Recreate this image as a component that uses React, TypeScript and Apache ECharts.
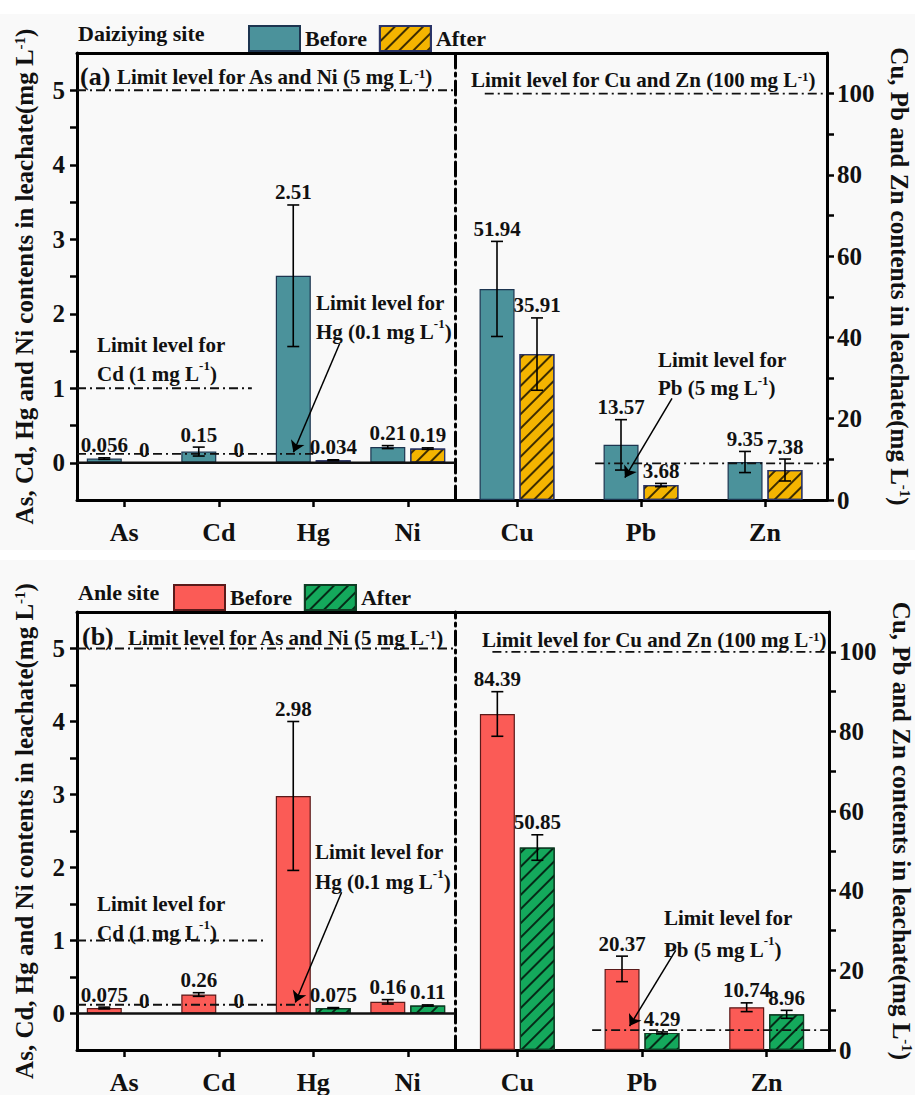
import React, { useEffect, useRef } from 'react';
import * as echarts from 'echarts';

// ---------- categories & ticks ----------
const leftCats = ['As', 'Cd', 'Hg', 'Ni'];
const rightCats = ['Cu', 'Pb', 'Zn'];
const leftLabelTicks = [0, 1, 2, 3, 4, 5];
const leftTickMarks = [0, 0.5, 1, 1.5, 2, 2.5, 3, 3.5, 4, 4.5, 5];
const rightLabelTicks = [0, 20, 40, 60, 80, 100];
const rightTickMarks = [0, 10, 20, 30, 40, 50, 60, 70, 80, 90, 100];

// ---------- panel (a) Daiziying site ----------
const aLeftBefore = [0.056, 0.15, 2.51, 0.21];
const aLeftBeforeErr = [0.01, 0.06, 0.95, 0.02];
const aLeftAfter = [0, 0, 0.034, 0.19];
const aLeftAfterErr = [0, 0, 0.006, 0.01];
const aRightBefore = [51.94, 13.57, 9.35];
const aRightBeforeErr = [11.7, 6.2, 2.6];
const aRightAfter = [35.91, 3.68, 7.38];
const aRightAfterErr = [8.9, 0.4, 2.7];

// ---------- panel (b) Anle site ----------
const bLeftBefore = [0.075, 0.26, 2.98, 0.16];
const bLeftBeforeErr = [0.012, 0.025, 1.02, 0.03];
const bLeftAfter = [0, 0, 0.075, 0.11];
const bLeftAfterErr = [0, 0, 0.006, 0.008];
const bRightBefore = [84.39, 20.37, 10.74];
const bRightBeforeErr = [5.6, 3.2, 1.1];
const bRightAfter = [50.85, 4.29, 8.96];
const bRightAfterErr = [3.2, 0.25, 1.0];

// ---------- limit lines: [x along category span, y value] ----------
const aLimitAsNi = [[0, 5], [4, 5]];
const aLimitCd = [[0, 1], [1.85, 1]];
const aLimitHg = [[0, 0.12], [2.5, 0.12]];
const aLimitCuZn = [[0.24, 100], [3, 100]];
const aLimitPb = [[1.13, 9], [3, 9]];
const aArrowHg = [[2.78, 1.6], [2.29, 0.14]];
const aArrowPb = [[1.75, 25], [1.37, 5.5]];

const bLimitAsNi = [[0, 5], [4, 5]];
const bLimitCd = [[0, 1], [1.97, 1]];
const bLimitHg = [[0, 0.12], [2.45, 0.12]];
const bLimitCuZn = [[0.3, 100], [3, 100]];
const bLimitPb = [[1.1, 5], [3, 5]];
const bArrowHg = [[2.8, 1.66], [2.31, 0.15]];
const bArrowPb = [[1.77, 25], [1.4, 6]];

const zeroLine = [[0, 0], [4, 0]];

const FONT = '"Times New Roman", "Liberation Serif", serif';
const DASH_DOT = [9, 4, 2, 4];
const BAR_W = 35;
const GAP_PX = 5;

const hatch = {
  symbol: 'rect',
  symbolSize: 1,
  dashArrayX: [1, 0],
  dashArrayY: [1.1, 8],
  rotation: -Math.PI / 4,
  color: 'rgba(0,0,0,0.75)',
};

const richBase = (size: number) => ({
  t: { fontFamily: FONT, fontWeight: 'bold', fontSize: size, fill: '#111', color: '#111' },
  s: { fontFamily: FONT, fontWeight: 'bold', fontSize: Math.round(size * 0.6), fill: '#111', color: '#111', verticalAlign: 'top' },
});

type Panel = {
  key: string;
  top: number;
  height: number;
  rightEdge: number;
  site: string;
  before: string; beforeBorder: string;
  after: string; afterBorder: string;
  lb: number[]; lbe: number[]; la: number[]; lae: number[];
  rb: number[]; rbe: number[]; ra: number[]; rae: number[];
  limAsNi: number[][]; limCd: number[][]; limHg: number[][];
  limCuZn: number[][]; limPb: number[][];
  arrowHg: number[][]; arrowPb: number[][];
};

const panels: Panel[] = [
  {
    key: 'a', top: 53, height: 447, rightEdge: 827, site: 'Daiziying site',
    before: '#4b929b', beforeBorder: '#1d3550', after: '#f4b400', afterBorder: '#2a3468',
    lb: aLeftBefore, lbe: aLeftBeforeErr, la: aLeftAfter, lae: aLeftAfterErr,
    rb: aRightBefore, rbe: aRightBeforeErr, ra: aRightAfter, rae: aRightAfterErr,
    limAsNi: aLimitAsNi, limCd: aLimitCd, limHg: aLimitHg, limCuZn: aLimitCuZn, limPb: aLimitPb,
    arrowHg: aArrowHg, arrowPb: aArrowPb,
  },
  {
    key: 'b', top: 612, height: 443, rightEdge: 830, site: 'Anle site',
    before: '#fb5b56', beforeBorder: '#5a1a1a', after: '#14a95c', afterBorder: '#0f3d24',
    lb: bLeftBefore, lbe: bLeftBeforeErr, la: bLeftAfter, lae: bLeftAfterErr,
    rb: bRightBefore, rbe: bRightBeforeErr, ra: bRightAfter, rae: bRightAfterErr,
    limAsNi: bLimitAsNi, limCd: bLimitCd, limHg: bLimitHg, limCuZn: bLimitCuZn, limPb: bLimitPb,
    arrowHg: bArrowHg, arrowPb: bArrowPb,
  },
];

const axisLineStyle = { color: '#000', width: 3 };

function errSeries(xi: number, yi: number, vals: number[], errs: number[], offset: number) {
  return {
    type: 'custom',
    xAxisIndex: xi,
    yAxisIndex: yi,
    z: 10,
    clip: false,
    silent: true,
    encode: { x: 0, y: 1 },
    data: vals.map((v, i) => [i, v, errs[i]]),
    renderItem: (params: any, api: any) => {
      const ci = api.value(0);
      const v = api.value(1);
      const e = api.value(2);
      const base = api.coord([ci, v]);
      const x = base[0] + offset;
      const yTop = api.coord([ci, v + e])[1];
      const yBot = api.coord([ci, v - e])[1];
      const children: any[] = [];
      const st = { stroke: '#000', lineWidth: 1.6 };
      if (e > 0) {
        children.push({ type: 'line', shape: { x1: x, y1: yTop, x2: x, y2: yBot }, style: st });
        children.push({ type: 'line', shape: { x1: x - 6, y1: yTop, x2: x + 6, y2: yTop }, style: st });
        children.push({ type: 'line', shape: { x1: x - 6, y1: yBot, x2: x + 6, y2: yBot }, style: st });
      }
      children.push({
        type: 'text',
        x,
        y: Math.min(yTop, base[1]) - 2,
        style: {
          text: String(vals[params.dataIndex]),
          font: `bold 21px ${FONT}`,
          fill: '#111',
          align: 'center',
          verticalAlign: 'bottom',
        },
      });
      return { type: 'group', children };
    },
  };
}

function limitSeries(xi: number, yi: number, data: number[][], solid = false, arrow?: number[][]) {
  const s: any = {
    type: 'line',
    xAxisIndex: xi,
    yAxisIndex: yi,
    data,
    symbol: 'none',
    silent: true,
    z: 4,
    lineStyle: { color: '#111', width: solid ? 2.5 : 1.8, type: solid ? 'solid' : DASH_DOT },
  };
  if (arrow) {
    s.markLine = {
      silent: true,
      symbol: ['none', 'arrow'],
      symbolSize: 11,
      label: { show: false },
      lineStyle: { color: '#000', width: 1.5, type: 'solid' },
      data: [[{ coord: arrow[0] }, { coord: arrow[1] }]],
    };
  }
  return s;
}

function buildOption() {
  const grid: any[] = [];
  const xAxis: any[] = [];
  const yAxis: any[] = [];
  const series: any[] = [];
  const legend: any[] = [];
  const graphic: any[] = [];

  graphic.push({ type: 'rect', z: -10, shape: { x: 0, y: 14, width: 915, height: 536 }, style: { fill: '#f9f9f9' } });
  graphic.push({ type: 'rect', z: -10, shape: { x: 0, y: 560, width: 915, height: 535 }, style: { fill: '#f9f9f9' } });

  panels.forEach((p, pi) => {
    const gL = 2 * pi;
    const gR = 2 * pi + 1;
    const xLc = 4 * pi, xLv = 4 * pi + 1, xRc = 4 * pi + 2, xRv = 4 * pi + 3;
    const yL = 3 * pi, yR = 3 * pi + 2;

    grid.push({ left: 77, top: p.top, width: 455 - 77, height: p.height });
    grid.push({ left: 455, top: p.top, width: p.rightEdge - 455, height: p.height });

    const catAxis = (gi: number, data: string[]) => ({
      type: 'category', gridIndex: gi, data, position: 'bottom',
      axisLine: { show: true, onZero: false, lineStyle: axisLineStyle },
      axisTick: { show: true, alignWithLabel: true, length: 7, lineStyle: { color: '#000', width: 2.5 } },
      axisLabel: { margin: 19, color: '#111', fontFamily: FONT, fontWeight: 'bold', fontSize: 26 },
      splitLine: { show: false },
    });
    const topAxis = (gi: number, max: number) => ({
      type: 'value', gridIndex: gi, min: 0, max, position: 'top',
      axisLine: { show: true, onZero: false, lineStyle: axisLineStyle },
      axisTick: { show: false }, axisLabel: { show: false }, splitLine: { show: false },
    });
    xAxis.push(catAxis(gL, leftCats));
    xAxis.push(topAxis(gL, 4));
    xAxis.push(catAxis(gR, rightCats));
    xAxis.push(topAxis(gR, 3));

    yAxis.push({
      type: 'value', gridIndex: gL, min: -0.5, max: 5.5, position: 'left',
      name: '{t|As, Cd, Hg and Ni contents in leachate(mg L}{s|-1}{t|)}',
      nameLocation: 'middle', nameRotate: 90, nameGap: 40,
      nameTextStyle: { rich: richBase(25) },
      axisLine: { show: true, onZero: false, lineStyle: axisLineStyle },
      axisTick: { show: true, customValues: leftTickMarks, length: 7, lineStyle: { color: '#000', width: 2.5 } },
      axisLabel: {
        customValues: leftLabelTicks, margin: 12, color: '#111', fontFamily: FONT, fontWeight: 'bold', fontSize: 25,
        formatter: (v: number) => (Number.isInteger(v) && v >= 0 && v <= 5 ? String(v) : ''),
      },
      splitLine: { show: false },
    });
    yAxis.push({
      type: 'value', gridIndex: gL, min: -0.5, max: 5.5, position: 'right',
      axisLine: { show: true, onZero: false, lineStyle: { color: '#000', width: 3, type: [14, 5, 3, 5] } },
      axisTick: { show: false }, axisLabel: { show: false }, splitLine: { show: false },
    });
    yAxis.push({
      type: 'value', gridIndex: gR, min: 0, max: 110, position: 'right',
      name: '{t|Cu, Pb and Zn contents in leachate(mg L}{s|-1}{t|)}',
      nameLocation: 'middle', nameRotate: -90, nameGap: 60,
      nameTextStyle: { rich: richBase(25) },
      axisLine: { show: true, onZero: false, lineStyle: axisLineStyle },
      axisTick: { show: true, customValues: rightTickMarks, length: 7, lineStyle: { color: '#000', width: 2.5 } },
      axisLabel: {
        customValues: rightLabelTicks, margin: 10, color: '#111', fontFamily: FONT, fontWeight: 'bold', fontSize: 25,
        formatter: (v: number) => (v % 20 === 0 && v <= 100 ? String(v) : ''),
      },
      splitLine: { show: false },
    });

    const beforeName = 'Before|' + p.key;
    const afterName = 'After|' + p.key;
    const beforeStyle = { color: p.before, borderColor: p.beforeBorder, borderWidth: 1.2 };
    const afterStyle = { color: p.after, borderColor: p.afterBorder, borderWidth: 1.2, decal: hatch };
    const gapPct = Math.round((GAP_PX / BAR_W) * 100) + '%';
    const off = (BAR_W + GAP_PX) / 2;

    series.push({ type: 'bar', name: beforeName, xAxisIndex: xLc, yAxisIndex: yL, data: p.lb, barWidth: BAR_W, barGap: gapPct, itemStyle: beforeStyle, z: 2 });
    series.push({ type: 'bar', name: afterName, xAxisIndex: xLc, yAxisIndex: yL, data: p.la, barWidth: BAR_W, barGap: gapPct, itemStyle: afterStyle, z: 2 });
    series.push({ type: 'bar', name: beforeName, xAxisIndex: xRc, yAxisIndex: yR, data: p.rb, barWidth: BAR_W, barGap: gapPct, itemStyle: beforeStyle, z: 2 });
    series.push({ type: 'bar', name: afterName, xAxisIndex: xRc, yAxisIndex: yR, data: p.ra, barWidth: BAR_W, barGap: gapPct, itemStyle: afterStyle, z: 2 });

    series.push(errSeries(xLc, yL, p.lb, p.lbe, -off));
    series.push(errSeries(xLc, yL, p.la, p.lae, off));
    series.push(errSeries(xRc, yR, p.rb, p.rbe, -off));
    series.push(errSeries(xRc, yR, p.ra, p.rae, off));

    series.push(limitSeries(xLv, yL, zeroLine, true));
    series.push(limitSeries(xLv, yL, p.limAsNi));
    series.push(limitSeries(xLv, yL, p.limCd));
    series.push(limitSeries(xLv, yL, p.limHg, false, p.arrowHg));
    series.push(limitSeries(xRv, yR, p.limCuZn));
    series.push(limitSeries(xRv, yR, p.limPb, false, p.arrowPb));

    legend.push({
      data: [beforeName, afterName],
      left: pi === 0 ? 243 : 168,
      top: p.top - 33,
      icon: 'rect',
      itemWidth: 51,
      itemHeight: 25,
      itemGap: 12,
      selectedMode: false,
      formatter: (n: string) => n.split('|')[0],
      textStyle: { fontFamily: FONT, fontWeight: 'bold', fontSize: 22, color: '#111' },
    });

    const text = (x: number, y: number, txt: string, size: number, lh?: number, va = 'middle') => ({
      type: 'text', x, y, z: 20,
      style: {
        text: txt,
        rich: lh
          ? { t: { ...richBase(size).t, lineHeight: lh }, s: { ...richBase(size).s } }
          : richBase(size),
        verticalAlign: va,
        align: 'left',
      },
    });

    graphic.push(text(78, p.top - 20, '{t|' + p.site + '}', 22));
    if (pi === 0) {
      graphic.push(text(80, 76, '{t|(a)}', 26));
      graphic.push(text(117, 77, '{t|Limit level for As and Ni (5 mg L}{s|-1}{t|)}', 21));
      graphic.push(text(471, 80, '{t|Limit level for Cu and Zn (100 mg L}{s|-1}{t|)}', 21));
      graphic.push(text(97, 330, '{t|Limit level for}\n{t|Cd (1 mg L}{s|-1}{t|)}', 21, 29, 'top'));
      graphic.push(text(316, 288, '{t|Limit level for}\n{t|Hg (0.1 mg L}{s|-1}{t|)}', 21, 29, 'top'));
      graphic.push(text(658, 346, '{t|Limit level for}\n{t|Pb (5 mg L}{s|-1}{t|)}', 21, 28, 'top'));
    } else {
      graphic.push(text(82, 636, '{t|(b)}', 26));
      graphic.push(text(128, 638, '{t|Limit level for As and Ni (5 mg L}{s|-1}{t|)}', 21));
      graphic.push(text(482, 640, '{t|Limit level for Cu and Zn (100 mg L}{s|-1}{t|)}', 21));
      graphic.push(text(97, 889, '{t|Limit level for}\n{t|Cd (1 mg L}{s|-1}{t|)}', 21, 29, 'top'));
      graphic.push(text(315, 837, '{t|Limit level for}\n{t|Hg (0.1 mg L}{s|-1}{t|)}', 21, 30, 'top'));
      graphic.push(text(664, 902, '{t|Limit level for}\n{t|Pb (5 mg L}{s|-1}{t|)}', 21, 32, 'top'));
    }
  });

  return {
    animation: false,
    backgroundColor: '#ffffff',
    textStyle: { fontFamily: FONT },
    grid,
    xAxis,
    yAxis,
    series,
    legend,
    graphic,
  };
}

export default function App() {
  const ref = useRef<HTMLDivElement>(null);
  useEffect(() => {
    document.body.style.margin = '0';
    if (!ref.current) return;
    const chart = echarts.init(ref.current, undefined, { renderer: 'svg' });
    chart.setOption(buildOption() as any);
    return () => chart.dispose();
  }, []);
  return <div ref={ref} style={{ width: 915, height: 1095 }} />;
}
